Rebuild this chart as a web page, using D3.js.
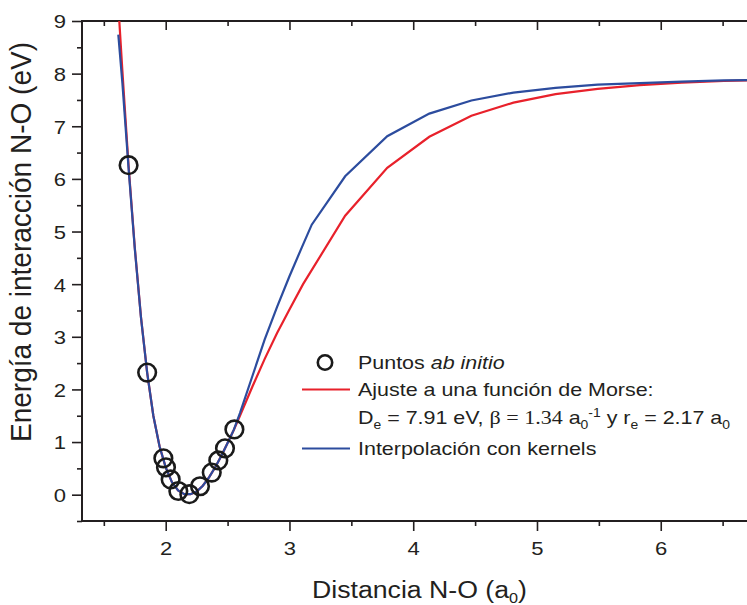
<!DOCTYPE html>
<html>
<head>
<meta charset="utf-8">
<script src="https://cdn.jsdelivr.net/npm/d3@7"></script>
<style>
  html, body { margin: 0; padding: 0; background: #fff; }
  svg { display: block; }
  text { font-family: "Liberation Sans", Arial, sans-serif; fill: #231f20; }
</style>
</head>
<body>
<svg id="chart" width="747" height="605"></svg>
<script>
// ---- Data ----
// ab initio points: distance (a0) and energy (eV)
const pointR = [1.70, 1.85, 1.981, 2.002, 2.040, 2.102, 2.191, 2.277, 2.372, 2.425, 2.479, 2.555];
const pointE = [6.26, 2.32, 0.69, 0.52, 0.29, 0.07, 0.01, 0.16, 0.42, 0.65, 0.88, 1.24];

// Morse fit curve (red)
const morseR = [1.60, 1.65, 1.70, 1.75, 1.80, 1.85, 1.90, 1.95, 2.00, 2.05, 2.10, 2.15, 2.20, 2.25, 2.30, 2.35, 2.40, 2.45, 2.50, 2.55, 2.60, 2.70, 2.80, 2.90, 3.00, 3.11, 3.45, 3.79, 4.13, 4.47, 4.81, 5.15, 5.49, 5.83, 6.17, 6.51, 6.85];
const morseE = [9.95, 8.05, 6.25, 4.70, 3.38, 2.32, 1.50, 0.92, 0.52, 0.24, 0.08, 0.01, 0.01, 0.06, 0.17, 0.33, 0.52, 0.74, 0.98, 1.23, 1.50, 2.05, 2.58, 3.07, 3.52, 4.00, 5.30, 6.21, 6.80, 7.20, 7.45, 7.61, 7.71, 7.78, 7.83, 7.86, 7.88];

// Kernel interpolation curve (blue)
const kernelR = [1.617, 1.65, 1.70, 1.75, 1.80, 1.85, 1.90, 1.95, 2.00, 2.05, 2.10, 2.15, 2.20, 2.25, 2.30, 2.35, 2.40, 2.45, 2.50, 2.55, 2.60, 2.70, 2.80, 2.90, 3.00, 3.10, 3.18, 3.45, 3.79, 4.13, 4.47, 4.81, 5.15, 5.49, 5.83, 6.17, 6.51, 6.85];
const kernelE = [8.74, 7.82, 6.20, 4.68, 3.37, 2.32, 1.50, 0.92, 0.52, 0.24, 0.08, 0.01, 0.01, 0.06, 0.17, 0.33, 0.52, 0.74, 0.98, 1.23, 1.55, 2.25, 2.95, 3.57, 4.15, 4.70, 5.13, 6.05, 6.81, 7.24, 7.49, 7.64, 7.73, 7.79, 7.82, 7.85, 7.87, 7.88];

// Tick labels
const xTicks = [2, 3, 4, 5, 6];
const xMinorTicks = [1.5, 2.5, 3.5, 4.5, 5.5, 6.5];
const yTicks = [0, 1, 2, 3, 4, 5, 6, 7, 8, 9];
const yMinorTicks = [-0.5, 0.5, 1.5, 2.5, 3.5, 4.5, 5.5, 6.5, 7.5, 8.5];

// ---- Layout ----
const svg = d3.select("#chart");
const pL = 82, pR = 747, pT = 21, pB = 521;
const x = d3.scaleLinear().domain([1.3236, 6.697]).range([pL, pR]);
const y = d3.scaleLinear().domain([-0.5, 9]).range([pB, pT]);
const ink = "#231f20";
const SX = 1.16; // horizontal stretch of the reference lettering

svg.append("defs").append("clipPath").attr("id", "plotclip")
  .append("rect").attr("x", pL).attr("y", pT).attr("width", pR - pL).attr("height", pB - pT);

// ---- Axes ----
function styleAxis(g) {
  g.select(".domain").remove();
  g.selectAll(".tick line").attr("stroke", ink).attr("stroke-width", 1.6);
}
const gxB = svg.append("g").attr("transform", `translate(0,${pB})`)
  .call(d3.axisBottom(x).tickValues(xTicks).tickSize(10).tickFormat(d3.format("d")));
styleAxis(gxB);
gxB.selectAll(".tick text").attr("y", 34).attr("dy", 0).attr("transform", `scale(${SX},1)`)
  .style("font-size", "19px").attr("fill", ink);
const gxBm = svg.append("g").attr("transform", `translate(0,${pB})`)
  .call(d3.axisBottom(x).tickValues(xMinorTicks).tickSize(5).tickFormat(""));
styleAxis(gxBm);
const gxT = svg.append("g").attr("transform", `translate(0,${pT})`)
  .call(d3.axisBottom(x).tickValues(xTicks).tickSize(9).tickFormat(""));
styleAxis(gxT);
const gxTm = svg.append("g").attr("transform", `translate(0,${pT})`)
  .call(d3.axisBottom(x).tickValues(xMinorTicks).tickSize(5).tickFormat(""));
styleAxis(gxTm);
const gyL = svg.append("g").attr("transform", `translate(${pL},0)`)
  .call(d3.axisLeft(y).tickValues(yTicks).tickSize(10).tickPadding(7).tickFormat(d3.format("d")));
styleAxis(gyL);
gyL.selectAll(".tick text").attr("x", -16 / SX).attr("dy", "0.36em").attr("transform", `scale(${SX},1)`)
  .style("font-size", "19px").attr("fill", ink);
const gyLm = svg.append("g").attr("transform", `translate(${pL},0)`)
  .call(d3.axisLeft(y).tickValues(yMinorTicks).tickSize(5).tickFormat(""));
styleAxis(gyLm);

svg.append("line").attr("x1", pL - 1).attr("x2", pR).attr("y1", pB).attr("y2", pB)
  .attr("stroke", ink).attr("stroke-width", 2);
svg.append("line").attr("x1", pL - 1).attr("x2", pR).attr("y1", pT).attr("y2", pT)
  .attr("stroke", ink).attr("stroke-width", 2);
svg.append("line").attr("x1", pL).attr("x2", pL).attr("y1", pT - 1).attr("y2", pB + 1)
  .attr("stroke", ink).attr("stroke-width", 2);

// ---- Curves ----
const plot = svg.append("g").attr("clip-path", "url(#plotclip)");
const line = d3.line().x(d => x(d[0])).y(d => y(d[1]));
const red = "#e8212b", blue = "#2c4c9e";
plot.append("path").datum(morseR.map((r, i) => [r, morseE[i]]))
  .attr("d", line).attr("fill", "none").attr("stroke", red).attr("stroke-width", 2.2);
plot.append("path").datum(kernelR.map((r, i) => [r, kernelE[i]]))
  .attr("d", line).attr("fill", "none").attr("stroke", blue).attr("stroke-width", 2.2);

plot.selectAll("circle.pt").data(pointR.map((r, i) => [r, pointE[i]]))
  .join("circle").attr("class", "pt")
  .attr("cx", d => x(d[0])).attr("cy", d => y(d[1])).attr("r", 8.8)
  .attr("fill", "none").attr("stroke", "#1a1a1a").attr("stroke-width", 2.6);

// ---- Axis titles ----
const xt = svg.append("g").attr("transform", `translate(312,598) scale(${SX},1)`)
  .append("text").style("font-size", "23px");
xt.append("tspan").text("Distancia N-O (a");
xt.append("tspan").text("0").style("font-size", "14px").attr("dy", 5);
xt.append("tspan").text(")").attr("dy", -5);

// y title: sized so that it spans ~400 px along the axis
const yt = svg.append("text").attr("transform", "translate(31,242) scale(1.08,1) rotate(-90)")
  .attr("text-anchor", "middle").style("font-size", "24px")
  .text("Energía de interacción N-O (eV)");
const ytLen = yt.node().getComputedTextLength();
yt.style("font-size", (24 * 400 / ytLen).toFixed(2) + "px");

// ---- Legend ----
const lx = 358, fs = "18.5px";
const legText = (yy) => svg.append("g").attr("transform", `translate(${lx},${yy}) scale(${SX},1)`)
  .append("text").style("font-size", fs);

svg.append("circle").attr("cx", 325).attr("cy", 362.5).attr("r", 7.2)
  .attr("fill", "none").attr("stroke", "#1a1a1a").attr("stroke-width", 2.6);
const t1 = legText(368.5);
t1.append("tspan").text("Puntos ");
t1.append("tspan").text("ab initio").style("font-style", "italic");

svg.append("line").attr("x1", 302).attr("x2", 350).attr("y1", 389.5).attr("y2", 389.5)
  .attr("stroke", red).attr("stroke-width", 2.2);
legText(395.5).text("Ajuste a una función de Morse:");

const t3 = legText(424);
const sub = (s) => t3.append("tspan").text(s).style("font-size", "12px").attr("dy", 5);
const up = (s, d) => t3.append("tspan").text(s).attr("dy", d);
up("D", 0);
sub("e");
up(" = 7.91 eV, ", -5);
t3.append("tspan").text("β = 1.34").style("font-family", "'Liberation Serif', 'Times New Roman', serif").style("font-size", "19px");
t3.append("tspan").text(" a");
sub("0");
t3.append("tspan").text("-1").style("font-size", "12px").attr("dy", -12);
up(" y r", 7);
sub("e");
up(" = 2.17 a", -5);
sub("0");

svg.append("line").attr("x1", 302).attr("x2", 350).attr("y1", 448.5).attr("y2", 448.5)
  .attr("stroke", blue).attr("stroke-width", 2.2);
legText(455).text("Interpolación con kernels");
</script>
</body>
</html>
